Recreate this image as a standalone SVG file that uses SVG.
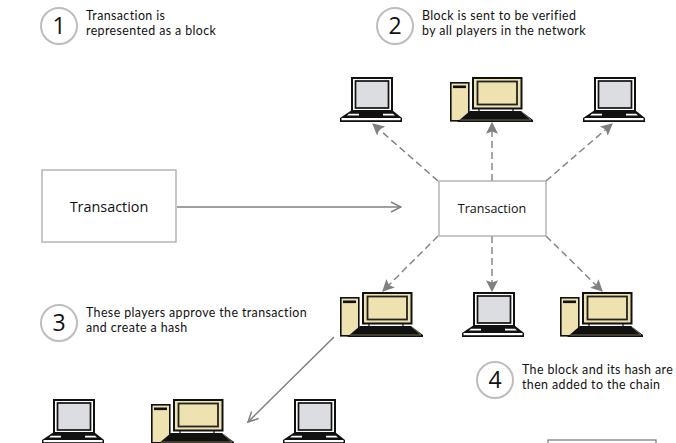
<svg xmlns="http://www.w3.org/2000/svg" xmlns:xlink="http://www.w3.org/1999/xlink" width="676" height="443" viewBox="0 0 676 443">
<style>
text{font-family:"Open Sans","Noto Sans","Liberation Sans",sans-serif;fill:#111}
.cap{font-family:Lato,"Open Sans",sans-serif;font-size:12.4px;letter-spacing:.4px}
.num{font-size:23px;text-anchor:middle}
.step{fill:#fff;stroke:#bdbdbd;stroke-width:2}
.box{fill:#fff;stroke:#aaa;stroke-width:1.3}
.dash{fill:none;stroke:#808080;stroke-width:1.4;stroke-dasharray:7 4;marker-end:url(#solid)}
.solid{fill:none;stroke:#808080;stroke-width:1.5;marker-end:url(#open)}
</style>
<defs>
<marker id="solid" viewBox="0 0 10 10" refX="9" refY="5" markerWidth="12" markerHeight="12" markerUnits="userSpaceOnUse" orient="auto"><path d="M0 0L10 5L0 10L2 5Z" fill="#808080"/></marker>
<marker id="open" viewBox="0 0 12 12" refX="11" refY="6" markerWidth="12" markerHeight="12" markerUnits="userSpaceOnUse" orient="auto"><path d="M1 1L11 6L1 11" fill="none" stroke="#808080" stroke-width="1.5"/></marker>
<g id="laptop">
<rect x="12" y="1" width="40" height="33" fill="#fff" stroke="#111" stroke-width="2"/>
<rect x="15.5" y="4" width="33" height="27" fill="#dcdde0" stroke="#111" stroke-width="1.7"/>
<path d="M12 33H52L62 41V45H0V41Z" fill="#111"/>
<rect x="1.5" y="41" width="59" height="2.2" fill="#fff"/>
<path d="M7 38.5H19V36.8H9ZM55 38.5H43V36.8H53Z" fill="#fff"/>
</g>
<g id="desktop">
<rect x="0.8" y="5.8" width="18" height="38" fill="#ede2b0" stroke="#111" stroke-width="1.6"/>
<rect x="3" y="8.5" width="13" height="2.6" fill="#111"/>
<rect x="23" y="1" width="48.5" height="30.5" fill="#ede2b0" stroke="#111" stroke-width="2"/>
<rect x="27.5" y="4.5" width="39.5" height="23" fill="#ede2b0" stroke="#222" stroke-width="1.8"/>
<path d="M29 31.5V34M63 31.5V34" stroke="#111" stroke-width="1.2"/>
<path d="M20 34H71L83 43V45H7Z" fill="#111"/>
<path d="M72 35L81 43H10" fill="none" stroke="#8b8660" stroke-width="0.8"/>
</g>
</defs>
<g id="connectors">
<path class="solid" d="M177 207H401"/>
<path class="dash" d="M438 181L373 124"/>
<path class="dash" d="M492 181V123"/>
<path class="dash" d="M546 181L612 124"/>
<path class="dash" d="M438 236L383 291"/>
<path class="dash" d="M492 236V291"/>
<path class="dash" d="M546 236L602 291"/>
<path class="solid" d="M334 337L248 422"/>
</g>
<g id="step1"><circle class="step" cx="59" cy="26" r="18"/><text class="num" x="59" y="34">1</text><text class="cap" x="86" y="20">Transaction is</text><text class="cap" x="86" y="35">represented as a block</text></g>
<g id="step2"><circle class="step" cx="395" cy="26" r="18"/><text class="num" x="395" y="34">2</text><text class="cap" x="422" y="20">Block is sent to be verified</text><text class="cap" x="422" y="35">by all players in the network</text></g>
<g id="step3"><circle class="step" cx="59" cy="323" r="18"/><text class="num" x="59" y="331">3</text><text class="cap" x="86" y="317">These players approve the transaction</text><text class="cap" x="86" y="332">and create a hash</text></g>
<g id="step4"><circle class="step" cx="495" cy="380" r="18"/><text class="num" x="495" y="388">4</text><text class="cap" x="522" y="374">The block and its hash are</text><text class="cap" x="522" y="389">then added to the chain</text></g>
<g id="transaction-large"><rect class="box" x="42" y="170" width="134" height="72"/><text x="109" y="212" font-size="14.4" text-anchor="middle">Transaction</text></g>
<g id="transaction-block"><rect class="box" x="439" y="181" width="107" height="55"/><text x="492" y="213" font-size="12.5" text-anchor="middle">Transaction</text></g>
<g id="laptop-top-left"><use xlink:href="#laptop" x="340" y="77"/></g>
<g id="desktop-top"><use xlink:href="#desktop" x="450" y="77"/></g>
<g id="laptop-top-right"><use xlink:href="#laptop" x="583" y="77"/></g>
<g id="desktop-mid-left"><use xlink:href="#desktop" x="340" y="292"/></g>
<g id="laptop-mid"><use xlink:href="#laptop" x="462" y="292"/></g>
<g id="desktop-mid-right"><use xlink:href="#desktop" x="560" y="292"/></g>
<g id="laptop-bottom-left"><use xlink:href="#laptop" x="42" y="399"/></g>
<g id="desktop-bottom"><use xlink:href="#desktop" x="151" y="399"/></g>
<g id="laptop-bottom-right"><use xlink:href="#laptop" x="283" y="399"/></g>
<g id="chain-block"><rect x="548" y="440" width="108" height="10" fill="#fff" stroke="#777" stroke-width="1.2"/></g>
</svg>
